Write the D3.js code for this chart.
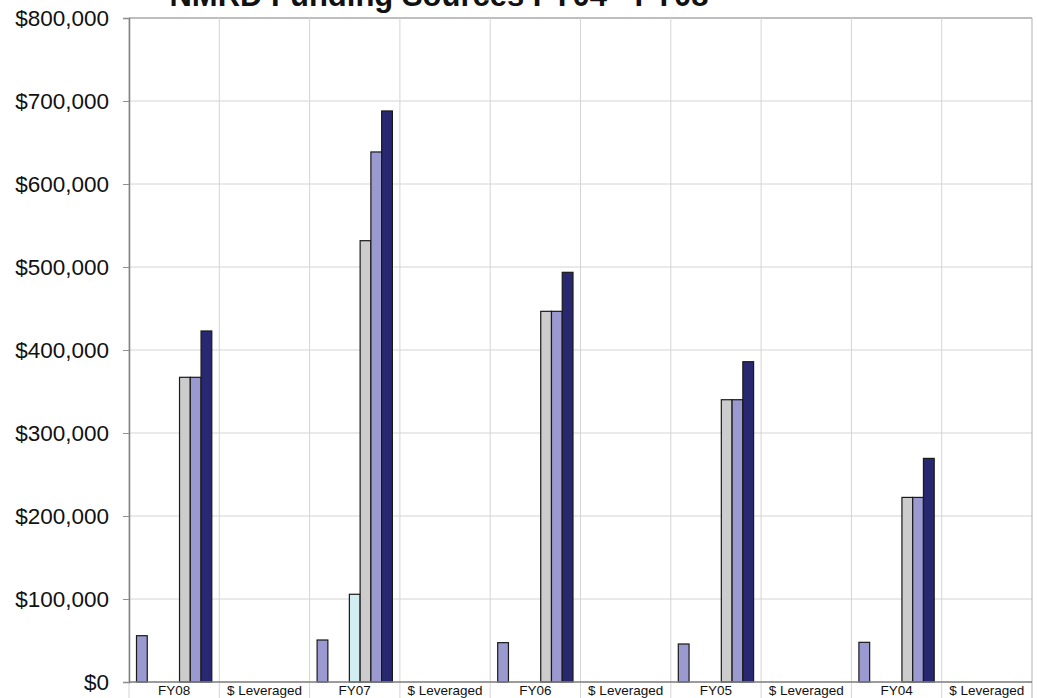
<!DOCTYPE html>
<html>
<head>
<meta charset="utf-8">
<script src="https://cdn.jsdelivr.net/npm/d3@7"></script>
<style>
  body { margin: 0; background: #fff; }
  svg { display: block; font-family: Arial, "Liberation Sans", sans-serif; }
</style>
</head>
<body>
<div class="grafic"></div>
<script>
// categories along the x axis
const categories = ["FY08", "$ Leveraged", "FY07", "$ Leveraged", "FY06", "$ Leveraged",
                    "FY05", "$ Leveraged", "FY04", "$ Leveraged"];

// one array per series (0 = no bar)
const series1 = [55800, 0, 50600, 0, 47400, 0, 45800, 0, 47800, 0];
const series2 = [0, 0, 0, 0, 0, 0, 0, 0, 0, 0];
const series3 = [0, 0, 0, 0, 0, 0, 0, 0, 0, 0];
const series4 = [0, 0, 105700, 0, 0, 0, 0, 0, 0, 0];
const series5 = [367100, 0, 531700, 0, 446600, 0, 340100, 0, 222400, 0];
const series6 = [367100, 0, 638600, 0, 446600, 0, 340100, 0, 222400, 0];
const series7 = [422900, 0, 688000, 0, 493600, 0, 385900, 0, 269400, 0];

const yTicks = [0, 100000, 200000, 300000, 400000, 500000, 600000, 700000, 800000];
const title = "NMRD Funding Sources FY04 - FY08";

const seriesList = [series1, series2, series3, series4, series5, series6, series7];
const colors = ["#9a9ad0", "#9a9ad0", "#9a9ad0", "#d2eef2", "#cccccc", "#9a9ad0", "#27286f"];

const w = 1037, h = 698;
const plotL = 129, plotR = 1032, plotT = 18, plotB = 682;

let svg = d3.select(".grafic")
    .append("svg")
    .attr("width", w)
    .attr("height", h);

let xScale = d3.scaleBand()
    .domain(d3.range(categories.length))
    .range([plotL, plotR])
    .padding(0);

let inner = d3.scaleBand()
    .domain(d3.range(seriesList.length))
    .range([7.5, xScale.bandwidth() - 7.5])
    .padding(0);

let yScale = d3.scaleLinear()
    .domain([0, 800000])
    .range([plotB, plotT]);

// horizontal grid
svg.append("g")
    .selectAll("line")
    .data(yTicks)
    .enter()
    .append("line")
    .attr("x1", plotL)
    .attr("x2", plotR)
    .attr("y1", d => yScale(d))
    .attr("y2", d => yScale(d))
    .attr("stroke", d => d === 800000 ? "#a8a8a8" : "#d4d4d4")
    .attr("stroke-width", d => d === 800000 ? 1.5 : 1);

// vertical grid + ticks below the axis
svg.append("g")
    .selectAll("line")
    .data(d3.range(categories.length + 1))
    .enter()
    .append("line")
    .attr("x1", i => plotL + i * xScale.step())
    .attr("x2", i => plotL + i * xScale.step())
    .attr("y1", plotT)
    .attr("y2", h)
    .attr("stroke", i => i === categories.length ? "#b0b0b0" : "#d4d4d4");

// bars
let dataset = [];
seriesList.forEach((s, si) => {
    s.forEach((v, ci) => {
        if (v > 0) dataset.push([ci, si, v]);
    });
});

svg.append("g")
    .selectAll("rect")
    .data(dataset)
    .enter()
    .append("rect")
    .attr("x", d => xScale(d[0]) + inner(d[1]))
    .attr("y", d => yScale(d[2]))
    .attr("width", inner.bandwidth())
    .attr("height", d => yScale(0) - yScale(d[2]))
    .attr("fill", d => colors[d[1]])
    .attr("stroke", "#1a1a1a")
    .attr("stroke-width", 1.2);

// y axis
let yAxis = d3.axisLeft()
    .scale(yScale)
    .tickValues(yTicks)
    .tickSize(6)
    .tickPadding(14)
    .tickFormat(d => "$" + d3.format(",")(d));

let ya = svg.append("g")
    .attr("transform", "translate(" + plotL + ",0)")
    .call(yAxis);
ya.select(".domain").attr("stroke", "#808080").attr("stroke-width", 1.5);
ya.selectAll(".tick line").attr("stroke", "#909090");
ya.selectAll(".tick text")
    .attr("font-size", "22.5px")
    .attr("font-family", "Arial, 'Liberation Sans', sans-serif")
    .attr("fill", "#111");

// x axis line
svg.append("line")
    .attr("x1", plotL)
    .attr("x2", plotR)
    .attr("y1", plotB)
    .attr("y2", plotB)
    .attr("stroke", "#808080")
    .attr("stroke-width", 1.5);

// x labels (bottom edge of the picture, slightly raised so they stay readable)
svg.append("g")
    .selectAll("text")
    .data(categories)
    .enter()
    .append("text")
    .attr("x", (d, i) => xScale(i) + xScale.bandwidth() / 2)
    .attr("y", 695)
    .attr("text-anchor", "middle")
    .attr("font-size", "13.5px")
    .attr("fill", "#111")
    .text(d => d);

// title (cut off at the top in the reference)
svg.append("text")
    .attr("x", 439)
    .attr("y", 6)
    .attr("text-anchor", "middle")
    .attr("font-size", "31px")
    .attr("font-weight", "bold")
    .attr("fill", "#111")
    .text(title);
</script>
</body>
</html>
